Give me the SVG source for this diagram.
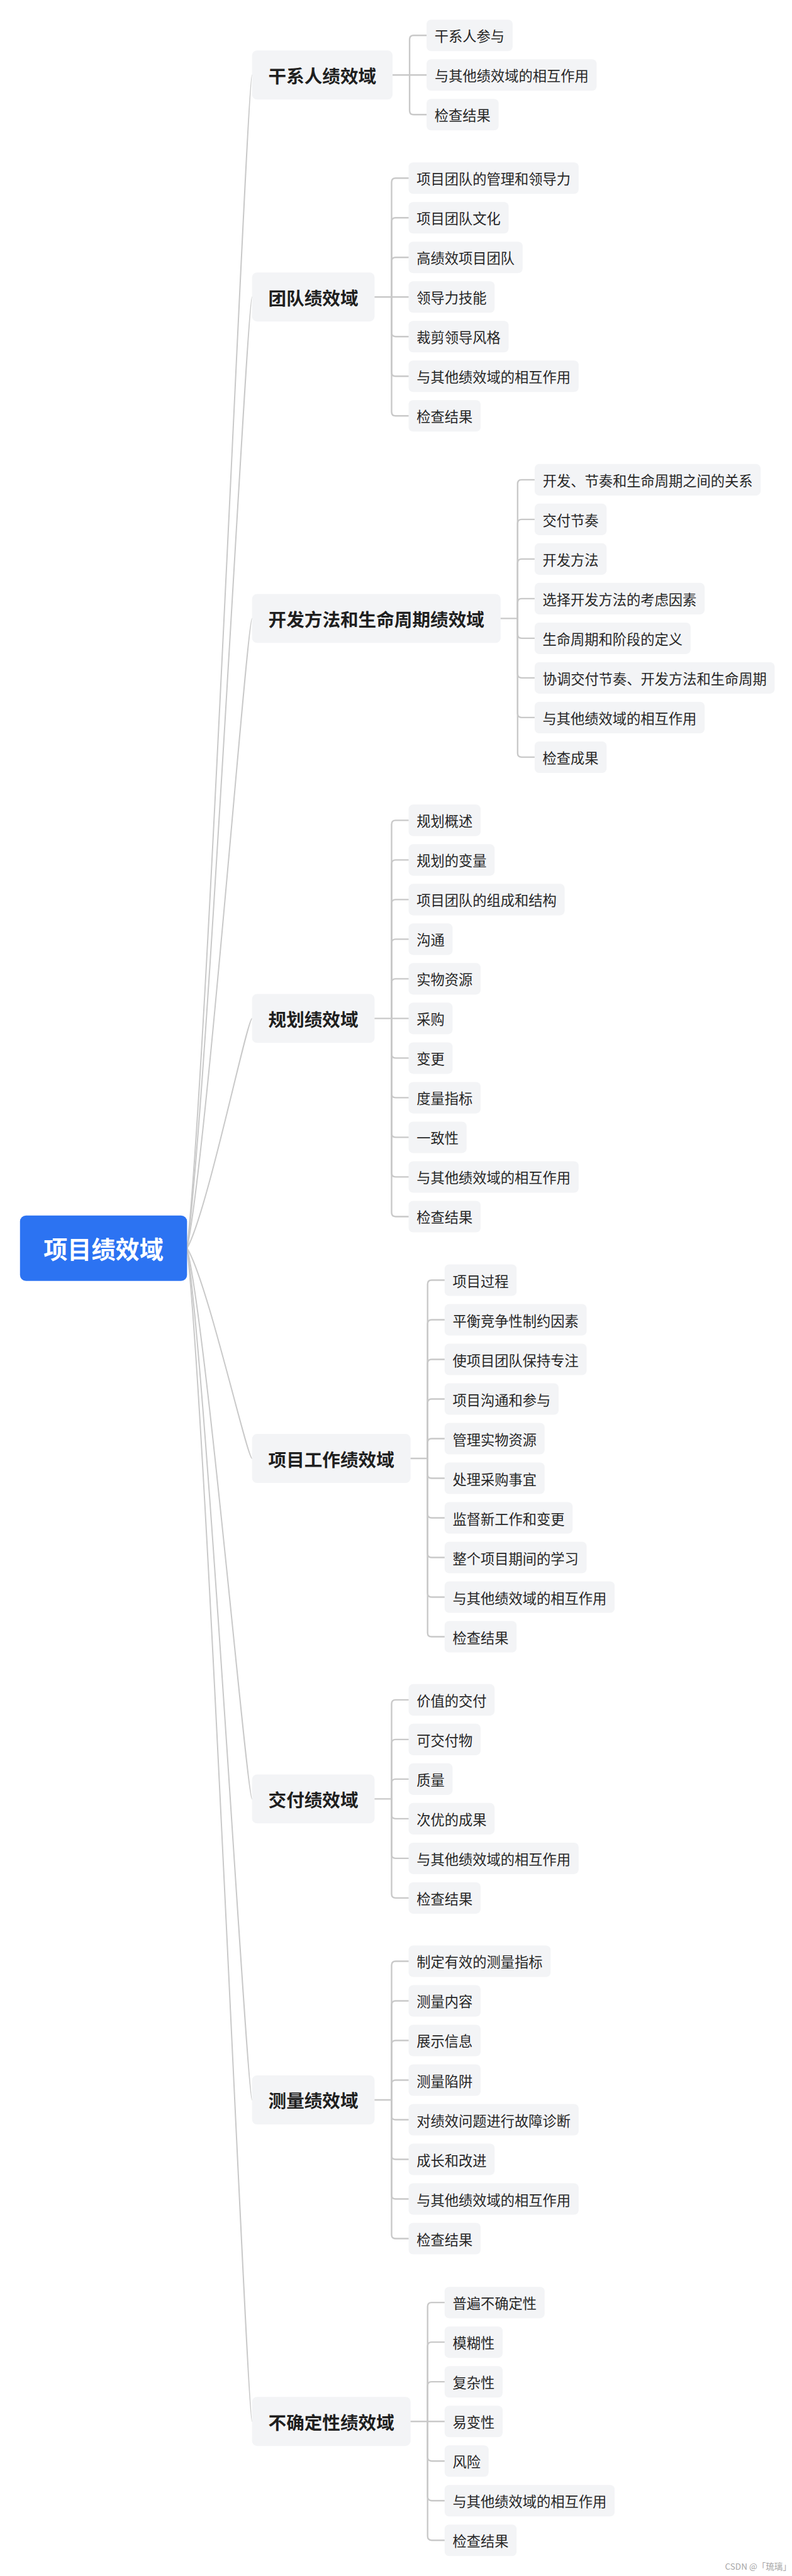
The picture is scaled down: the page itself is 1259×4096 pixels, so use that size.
<svg xmlns="http://www.w3.org/2000/svg" width="1259" height="4096" viewBox="0 0 1259 4096">
<style>
.bg{fill:#ffffff}
.root{fill:#2c73f2}
.rt{font-family:"Noto Sans CJK SC","Noto Sans",sans-serif;font-size:48px;font-weight:700;fill:#ffffff;text-anchor:middle;dominant-baseline:central}
.m{fill:#f3f4f6}
.mt{font-family:"Noto Sans CJK SC","Noto Sans",sans-serif;font-size:36px;font-weight:700;fill:#1f1f1f;text-anchor:middle;dominant-baseline:central}
.n{fill:#f3f4f6}
.t{font-family:"Noto Sans CJK SC","Noto Sans",sans-serif;font-size:28px;font-weight:400;fill:#262626;text-anchor:middle;dominant-baseline:central}
.c{fill:none;stroke:#c9c9c9;stroke-width:3;stroke-linecap:round;stroke-linejoin:round}
.rc{fill:none;stroke:#c9c9c9;stroke-width:2.5}
.wm{font-family:"Noto Sans CJK SC","Noto Sans",sans-serif;font-size:17px;fill:#a6a6a6;text-anchor:end}
</style>
<rect class="bg" x="0" y="0" width="1259" height="4096"/>
<g transform="scale(0.795)">
<g id="connectors">
<path class="rc" d="M374 2496.5 C414 2144.5 494 150 504 150"/>
<path class="rc" d="M374 2496.5 C414 2211.1 494 594 504 594"/>
<path class="rc" d="M374 2496.5 C414 2307.6 494 1237 504 1237"/>
<path class="rc" d="M374 2496.5 C414 2427.6 494 2037 504 2037"/>
<path class="rc" d="M374 2496.5 C414 2559.6 494 2917 504 2917"/>
<path class="rc" d="M374 2496.5 C414 2661.7 494 3598 504 3598"/>
<path class="rc" d="M374 2496.5 C414 2752 494 4200 504 4200"/>
<path class="rc" d="M374 2496.5 C414 2848.5 494 4843 504 4843"/>
<g transform="translate(-6,0)">
<!-- group 1 -->
<path class="c" d="M791 150 H825"/>
<path class="c" d="M825 150 V78.75 Q825 70.75 833 70.75 H859"/>
<path class="c" d="M825 150 H859"/>
<path class="c" d="M825 150 V221.25 Q825 229.25 833 229.25 H859"/>
<!-- group 2 -->
<path class="c" d="M755 594 H789"/>
<path class="c" d="M789 594 V364.25 Q789 356.25 797 356.25 H823"/>
<path class="c" d="M789 594 V443.5 Q789 435.5 797 435.5 H823"/>
<path class="c" d="M789 594 V522.75 Q789 514.75 797 514.75 H823"/>
<path class="c" d="M789 594 H823"/>
<path class="c" d="M789 594 V665.25 Q789 673.25 797 673.25 H823"/>
<path class="c" d="M789 594 V744.5 Q789 752.5 797 752.5 H823"/>
<path class="c" d="M789 594 V823.75 Q789 831.75 797 831.75 H823"/>
<!-- group 3 -->
<path class="c" d="M1007 1237 H1041"/>
<path class="c" d="M1041 1237 V967.63 Q1041 959.63 1049 959.63 H1075"/>
<path class="c" d="M1041 1237 V1046.88 Q1041 1038.88 1049 1038.88 H1075"/>
<path class="c" d="M1041 1237 V1126.13 Q1041 1118.13 1049 1118.13 H1075"/>
<path class="c" d="M1041 1237 V1205.38 Q1041 1197.38 1049 1197.38 H1075"/>
<path class="c" d="M1041 1237 V1268.63 Q1041 1276.63 1049 1276.63 H1075"/>
<path class="c" d="M1041 1237 V1347.88 Q1041 1355.88 1049 1355.88 H1075"/>
<path class="c" d="M1041 1237 V1427.13 Q1041 1435.13 1049 1435.13 H1075"/>
<path class="c" d="M1041 1237 V1506.38 Q1041 1514.38 1049 1514.38 H1075"/>
<!-- group 4 -->
<path class="c" d="M755 2037 H789"/>
<path class="c" d="M789 2037 V1648.75 Q789 1640.75 797 1640.75 H823"/>
<path class="c" d="M789 2037 V1728 Q789 1720 797 1720 H823"/>
<path class="c" d="M789 2037 V1807.25 Q789 1799.25 797 1799.25 H823"/>
<path class="c" d="M789 2037 V1886.5 Q789 1878.5 797 1878.5 H823"/>
<path class="c" d="M789 2037 V1965.75 Q789 1957.75 797 1957.75 H823"/>
<path class="c" d="M789 2037 H823"/>
<path class="c" d="M789 2037 V2108.25 Q789 2116.25 797 2116.25 H823"/>
<path class="c" d="M789 2037 V2187.5 Q789 2195.5 797 2195.5 H823"/>
<path class="c" d="M789 2037 V2266.75 Q789 2274.75 797 2274.75 H823"/>
<path class="c" d="M789 2037 V2346 Q789 2354 797 2354 H823"/>
<path class="c" d="M789 2037 V2425.25 Q789 2433.25 797 2433.25 H823"/>
<!-- group 5 -->
<path class="c" d="M827 2917 H861"/>
<path class="c" d="M861 2917 V2568.38 Q861 2560.38 869 2560.38 H895"/>
<path class="c" d="M861 2917 V2647.63 Q861 2639.63 869 2639.63 H895"/>
<path class="c" d="M861 2917 V2726.88 Q861 2718.88 869 2718.88 H895"/>
<path class="c" d="M861 2917 V2806.13 Q861 2798.13 869 2798.13 H895"/>
<path class="c" d="M861 2917 V2885.38 Q861 2877.38 869 2877.38 H895"/>
<path class="c" d="M861 2917 V2948.63 Q861 2956.63 869 2956.63 H895"/>
<path class="c" d="M861 2917 V3027.88 Q861 3035.88 869 3035.88 H895"/>
<path class="c" d="M861 2917 V3107.13 Q861 3115.13 869 3115.13 H895"/>
<path class="c" d="M861 2917 V3186.38 Q861 3194.38 869 3194.38 H895"/>
<path class="c" d="M861 2917 V3265.63 Q861 3273.63 869 3273.63 H895"/>
<!-- group 6 -->
<path class="c" d="M755 3598 H789"/>
<path class="c" d="M789 3598 V3407.88 Q789 3399.88 797 3399.88 H823"/>
<path class="c" d="M789 3598 V3487.13 Q789 3479.13 797 3479.13 H823"/>
<path class="c" d="M789 3598 V3566.38 Q789 3558.38 797 3558.38 H823"/>
<path class="c" d="M789 3598 V3629.63 Q789 3637.63 797 3637.63 H823"/>
<path class="c" d="M789 3598 V3708.88 Q789 3716.88 797 3716.88 H823"/>
<path class="c" d="M789 3598 V3788.13 Q789 3796.13 797 3796.13 H823"/>
<!-- group 7 -->
<path class="c" d="M755 4200 H789"/>
<path class="c" d="M789 4200 V3930.63 Q789 3922.63 797 3922.63 H823"/>
<path class="c" d="M789 4200 V4009.88 Q789 4001.88 797 4001.88 H823"/>
<path class="c" d="M789 4200 V4089.13 Q789 4081.13 797 4081.13 H823"/>
<path class="c" d="M789 4200 V4168.38 Q789 4160.38 797 4160.38 H823"/>
<path class="c" d="M789 4200 V4231.63 Q789 4239.63 797 4239.63 H823"/>
<path class="c" d="M789 4200 V4310.88 Q789 4318.88 797 4318.88 H823"/>
<path class="c" d="M789 4200 V4390.13 Q789 4398.13 797 4398.13 H823"/>
<path class="c" d="M789 4200 V4469.38 Q789 4477.38 797 4477.38 H823"/>
<!-- group 8 -->
<path class="c" d="M827 4843 H861"/>
<path class="c" d="M861 4843 V4613.25 Q861 4605.25 869 4605.25 H895"/>
<path class="c" d="M861 4843 V4692.5 Q861 4684.5 869 4684.5 H895"/>
<path class="c" d="M861 4843 V4771.75 Q861 4763.75 869 4763.75 H895"/>
<path class="c" d="M861 4843 H895"/>
<path class="c" d="M861 4843 V4914.25 Q861 4922.25 869 4922.25 H895"/>
<path class="c" d="M861 4843 V4993.5 Q861 5001.5 869 5001.5 H895"/>
<path class="c" d="M861 4843 V5072.75 Q861 5080.75 869 5080.75 H895"/>
</g>
</g>

<g id="root"><rect class="root" x="40" y="2431" width="334" height="131" rx="12"/><text class="rt" x="207" y="2496.5">项目绩效域</text></g>

<g id="nodes" transform="translate(-6,0)">
<g id="b1"><rect class="m" x="510" y="101" width="281" height="98" rx="10"/><text class="mt" x="650.5" y="150">干系人绩效域</text></g>
<g id="b2"><rect class="m" x="510" y="545" width="245" height="98" rx="10"/><text class="mt" x="632.5" y="594">团队绩效域</text></g>
<g id="b3"><rect class="m" x="510" y="1188" width="497" height="98" rx="10"/><text class="mt" x="758.5" y="1237">开发方法和生命周期绩效域</text></g>
<g id="b4"><rect class="m" x="510" y="1988" width="245" height="98" rx="10"/><text class="mt" x="632.5" y="2037">规划绩效域</text></g>
<g id="b5"><rect class="m" x="510" y="2868" width="317" height="98" rx="10"/><text class="mt" x="668.5" y="2917">项目工作绩效域</text></g>
<g id="b6"><rect class="m" x="510" y="3549" width="245" height="98" rx="10"/><text class="mt" x="632.5" y="3598">交付绩效域</text></g>
<g id="b7"><rect class="m" x="510" y="4151" width="245" height="98" rx="10"/><text class="mt" x="632.5" y="4200">测量绩效域</text></g>
<g id="b8"><rect class="m" x="510" y="4794" width="317" height="98" rx="10"/><text class="mt" x="668.5" y="4843">不确定性绩效域</text></g>

<g id="n1-1"><rect class="n" x="859" y="39.25" width="172" height="63" rx="9"/><text class="t" x="945" y="70.75">干系人参与</text></g>
<g id="n1-2"><rect class="n" x="859" y="118.5" width="340" height="63" rx="9"/><text class="t" x="1029" y="150">与其他绩效域的相互作用</text></g>
<g id="n1-3"><rect class="n" x="859" y="197.75" width="144" height="63" rx="9"/><text class="t" x="931" y="229.25">检查结果</text></g>

<g id="n2-1"><rect class="n" x="823" y="324.75" width="340" height="63" rx="9"/><text class="t" x="993" y="356.25">项目团队的管理和领导力</text></g>
<g id="n2-2"><rect class="n" x="823" y="404" width="200" height="63" rx="9"/><text class="t" x="923" y="435.5">项目团队文化</text></g>
<g id="n2-3"><rect class="n" x="823" y="483.25" width="228" height="63" rx="9"/><text class="t" x="937" y="514.75">高绩效项目团队</text></g>
<g id="n2-4"><rect class="n" x="823" y="562.5" width="172" height="63" rx="9"/><text class="t" x="909" y="594">领导力技能</text></g>
<g id="n2-5"><rect class="n" x="823" y="641.75" width="200" height="63" rx="9"/><text class="t" x="923" y="673.25">裁剪领导风格</text></g>
<g id="n2-6"><rect class="n" x="823" y="721" width="340" height="63" rx="9"/><text class="t" x="993" y="752.5">与其他绩效域的相互作用</text></g>
<g id="n2-7"><rect class="n" x="823" y="800.25" width="144" height="63" rx="9"/><text class="t" x="895" y="831.75">检查结果</text></g>

<g id="n3-1"><rect class="n" x="1075" y="928.13" width="452" height="63" rx="9"/><text class="t" x="1301" y="959.63">开发、节奏和生命周期之间的关系</text></g>
<g id="n3-2"><rect class="n" x="1075" y="1007.38" width="144" height="63" rx="9"/><text class="t" x="1147" y="1038.88">交付节奏</text></g>
<g id="n3-3"><rect class="n" x="1075" y="1086.63" width="144" height="63" rx="9"/><text class="t" x="1147" y="1118.13">开发方法</text></g>
<g id="n3-4"><rect class="n" x="1075" y="1165.88" width="340" height="63" rx="9"/><text class="t" x="1245" y="1197.38">选择开发方法的考虑因素</text></g>
<g id="n3-5"><rect class="n" x="1075" y="1245.13" width="312" height="63" rx="9"/><text class="t" x="1231" y="1276.63">生命周期和阶段的定义</text></g>
<g id="n3-6"><rect class="n" x="1075" y="1324.38" width="480" height="63" rx="9"/><text class="t" x="1315" y="1355.88">协调交付节奏、开发方法和生命周期</text></g>
<g id="n3-7"><rect class="n" x="1075" y="1403.63" width="340" height="63" rx="9"/><text class="t" x="1245" y="1435.13">与其他绩效域的相互作用</text></g>
<g id="n3-8"><rect class="n" x="1075" y="1482.88" width="144" height="63" rx="9"/><text class="t" x="1147" y="1514.38">检查成果</text></g>

<g id="n4-1"><rect class="n" x="823" y="1609.25" width="144" height="63" rx="9"/><text class="t" x="895" y="1640.75">规划概述</text></g>
<g id="n4-2"><rect class="n" x="823" y="1688.5" width="172" height="63" rx="9"/><text class="t" x="909" y="1720">规划的变量</text></g>
<g id="n4-3"><rect class="n" x="823" y="1767.75" width="312" height="63" rx="9"/><text class="t" x="979" y="1799.25">项目团队的组成和结构</text></g>
<g id="n4-4"><rect class="n" x="823" y="1847" width="88" height="63" rx="9"/><text class="t" x="867" y="1878.5">沟通</text></g>
<g id="n4-5"><rect class="n" x="823" y="1926.25" width="144" height="63" rx="9"/><text class="t" x="895" y="1957.75">实物资源</text></g>
<g id="n4-6"><rect class="n" x="823" y="2005.5" width="88" height="63" rx="9"/><text class="t" x="867" y="2037">采购</text></g>
<g id="n4-7"><rect class="n" x="823" y="2084.75" width="88" height="63" rx="9"/><text class="t" x="867" y="2116.25">变更</text></g>
<g id="n4-8"><rect class="n" x="823" y="2164" width="144" height="63" rx="9"/><text class="t" x="895" y="2195.5">度量指标</text></g>
<g id="n4-9"><rect class="n" x="823" y="2243.25" width="116" height="63" rx="9"/><text class="t" x="881" y="2274.75">一致性</text></g>
<g id="n4-10"><rect class="n" x="823" y="2322.5" width="340" height="63" rx="9"/><text class="t" x="993" y="2354">与其他绩效域的相互作用</text></g>
<g id="n4-11"><rect class="n" x="823" y="2401.75" width="144" height="63" rx="9"/><text class="t" x="895" y="2433.25">检查结果</text></g>

<g id="n5-1"><rect class="n" x="895" y="2528.88" width="144" height="63" rx="9"/><text class="t" x="967" y="2560.38">项目过程</text></g>
<g id="n5-2"><rect class="n" x="895" y="2608.13" width="284" height="63" rx="9"/><text class="t" x="1037" y="2639.63">平衡竞争性制约因素</text></g>
<g id="n5-3"><rect class="n" x="895" y="2687.38" width="284" height="63" rx="9"/><text class="t" x="1037" y="2718.88">使项目团队保持专注</text></g>
<g id="n5-4"><rect class="n" x="895" y="2766.63" width="228" height="63" rx="9"/><text class="t" x="1009" y="2798.13">项目沟通和参与</text></g>
<g id="n5-5"><rect class="n" x="895" y="2845.88" width="200" height="63" rx="9"/><text class="t" x="995" y="2877.38">管理实物资源</text></g>
<g id="n5-6"><rect class="n" x="895" y="2925.13" width="200" height="63" rx="9"/><text class="t" x="995" y="2956.63">处理采购事宜</text></g>
<g id="n5-7"><rect class="n" x="895" y="3004.38" width="256" height="63" rx="9"/><text class="t" x="1023" y="3035.88">监督新工作和变更</text></g>
<g id="n5-8"><rect class="n" x="895" y="3083.63" width="284" height="63" rx="9"/><text class="t" x="1037" y="3115.13">整个项目期间的学习</text></g>
<g id="n5-9"><rect class="n" x="895" y="3162.88" width="340" height="63" rx="9"/><text class="t" x="1065" y="3194.38">与其他绩效域的相互作用</text></g>
<g id="n5-10"><rect class="n" x="895" y="3242.13" width="144" height="63" rx="9"/><text class="t" x="967" y="3273.63">检查结果</text></g>

<g id="n6-1"><rect class="n" x="823" y="3368.38" width="172" height="63" rx="9"/><text class="t" x="909" y="3399.88">价值的交付</text></g>
<g id="n6-2"><rect class="n" x="823" y="3447.63" width="144" height="63" rx="9"/><text class="t" x="895" y="3479.13">可交付物</text></g>
<g id="n6-3"><rect class="n" x="823" y="3526.88" width="88" height="63" rx="9"/><text class="t" x="867" y="3558.38">质量</text></g>
<g id="n6-4"><rect class="n" x="823" y="3606.13" width="172" height="63" rx="9"/><text class="t" x="909" y="3637.63">次优的成果</text></g>
<g id="n6-5"><rect class="n" x="823" y="3685.38" width="340" height="63" rx="9"/><text class="t" x="993" y="3716.88">与其他绩效域的相互作用</text></g>
<g id="n6-6"><rect class="n" x="823" y="3764.63" width="144" height="63" rx="9"/><text class="t" x="895" y="3796.13">检查结果</text></g>

<g id="n7-1"><rect class="n" x="823" y="3891.13" width="284" height="63" rx="9"/><text class="t" x="965" y="3922.63">制定有效的测量指标</text></g>
<g id="n7-2"><rect class="n" x="823" y="3970.38" width="144" height="63" rx="9"/><text class="t" x="895" y="4001.88">测量内容</text></g>
<g id="n7-3"><rect class="n" x="823" y="4049.63" width="144" height="63" rx="9"/><text class="t" x="895" y="4081.13">展示信息</text></g>
<g id="n7-4"><rect class="n" x="823" y="4128.88" width="144" height="63" rx="9"/><text class="t" x="895" y="4160.38">测量陷阱</text></g>
<g id="n7-5"><rect class="n" x="823" y="4208.13" width="340" height="63" rx="9"/><text class="t" x="993" y="4239.63">对绩效问题进行故障诊断</text></g>
<g id="n7-6"><rect class="n" x="823" y="4287.38" width="172" height="63" rx="9"/><text class="t" x="909" y="4318.88">成长和改进</text></g>
<g id="n7-7"><rect class="n" x="823" y="4366.63" width="340" height="63" rx="9"/><text class="t" x="993" y="4398.13">与其他绩效域的相互作用</text></g>
<g id="n7-8"><rect class="n" x="823" y="4445.88" width="144" height="63" rx="9"/><text class="t" x="895" y="4477.38">检查结果</text></g>

<g id="n8-1"><rect class="n" x="895" y="4573.75" width="200" height="63" rx="9"/><text class="t" x="995" y="4605.25">普遍不确定性</text></g>
<g id="n8-2"><rect class="n" x="895" y="4653" width="116" height="63" rx="9"/><text class="t" x="953" y="4684.5">模糊性</text></g>
<g id="n8-3"><rect class="n" x="895" y="4732.25" width="116" height="63" rx="9"/><text class="t" x="953" y="4763.75">复杂性</text></g>
<g id="n8-4"><rect class="n" x="895" y="4811.5" width="116" height="63" rx="9"/><text class="t" x="953" y="4843">易变性</text></g>
<g id="n8-5"><rect class="n" x="895" y="4890.75" width="88" height="63" rx="9"/><text class="t" x="939" y="4922.25">风险</text></g>
<g id="n8-6"><rect class="n" x="895" y="4970" width="340" height="63" rx="9"/><text class="t" x="1065" y="5001.5">与其他绩效域的相互作用</text></g>
<g id="n8-7"><rect class="n" x="895" y="5049.25" width="144" height="63" rx="9"/><text class="t" x="967" y="5080.75">检查结果</text></g>
</g>

<text class="wm" x="1582" y="5140">CSDN @「琉璃」</text>
</g>
</svg>
